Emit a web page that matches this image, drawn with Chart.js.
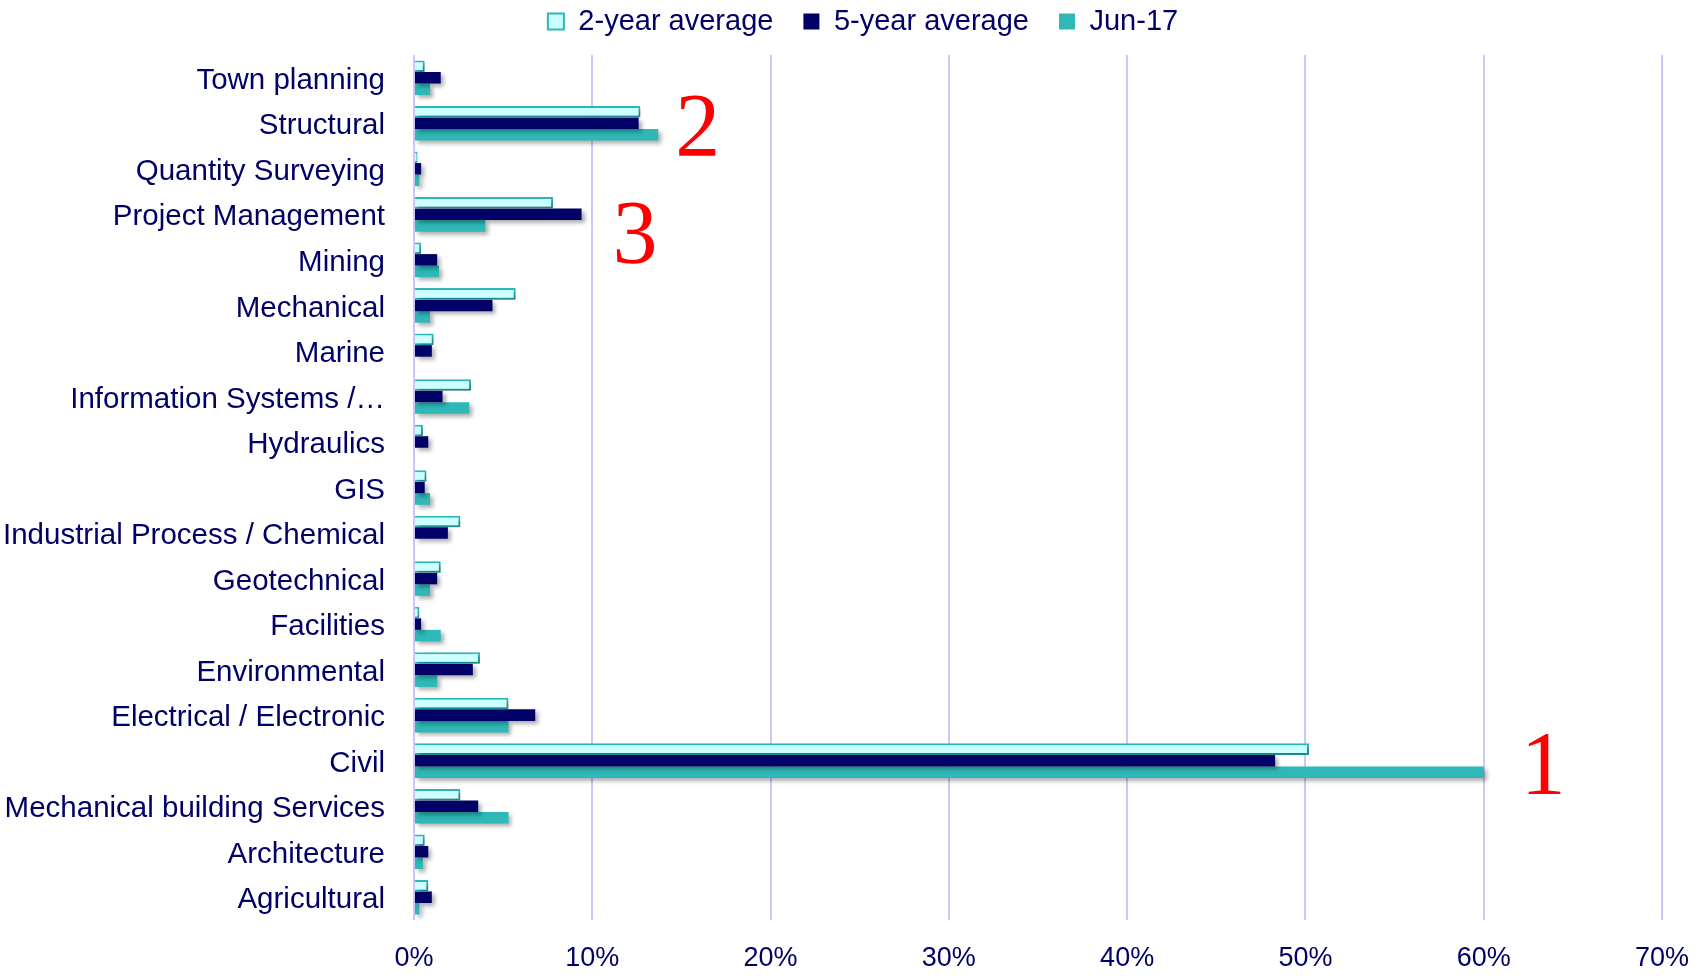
<!DOCTYPE html>
<html>
<head>
<meta charset="utf-8">
<script src="https://cdn.jsdelivr.net/npm/chart.js@4/dist/chart.umd.min.js"></script>
<style>
  html, body { margin: 0; padding: 0; background: #fff; }
  #wrap { width: 1707px; height: 976px; }
</style>
</head>
<body>
<div id="wrap"><canvas id="chart"></canvas></div>
<script>
'use strict';

var categories = ['Town planning', 'Structural', 'Quantity Surveying', 'Project Management', 'Mining',
   'Mechanical', 'Marine', 'Information Systems /\u2026', 'Hydraulics', 'GIS',
   'Industrial Process / Chemical', 'Geotechnical', 'Facilities', 'Environmental',
   'Electrical / Electronic', 'Civil', 'Mechanical building Services', 'Architecture', 'Agricultural'];

var twoYearAvg  = [0.6, 12.7, 0.2, 7.8, 0.4, 5.7, 1.1, 3.2, 0.5, 0.7, 2.6, 1.5, 0.3, 3.7, 5.3, 50.2, 2.6, 0.6, 0.8];
var fiveYearAvg = [1.5, 12.6, 0.4, 9.4, 1.3, 4.4, 1.0, 1.6, 0.8, 0.6, 1.9, 1.3, 0.4, 3.3, 6.8, 48.3, 3.6, 0.8, 1.0];
var jun17       = [0.9, 13.7, 0.3, 4.0, 1.4, 0.9, 0, 3.1, 0, 0.9, 0, 0.9, 1.5, 1.3, 5.3, 60.0, 5.3, 0.5, 0.3];

var xTicks = [0, 10, 20, 30, 40, 50, 60, 70];

// red ranking numbers next to some categories
var rankLabels = ['1', '2', '3'];
var rankCategories = ['Civil', 'Structural', 'Project Management'];

var navy = '#000066';
var teal = '#2EB8B8';
var labelFont = "'Liberation Sans', Arial, sans-serif";

var shadowPlugin = {
   id: 'barShadow',
   beforeDatasetsDraw: function (chart) {
      var ctx = chart.ctx;
      ctx.save();
      ctx.shadowColor = 'rgba(0, 0, 0, 0.32)';
      ctx.shadowBlur = 4;
      ctx.shadowOffsetX = 3;
      ctx.shadowOffsetY = 3;
   },
   afterDatasetsDraw: function (chart) {
      chart.ctx.restore();
   }
};

var rankPlugin = {
   id: 'rankNumbers',
   afterDraw: function (chart) {
      var ctx = chart.ctx;
      var xs = chart.scales.x, ys = chart.scales.y;
      var offsets = [[37, 10], [17, 9], [31, 25]]; // gap right of longest bar, vertical shift
      ctx.save();
      ctx.fillStyle = '#FF0000';
      ctx.font = "90px 'Liberation Serif', 'Times New Roman', serif";
      ctx.textBaseline = 'middle';
      ctx.textAlign = 'left';
      rankLabels.forEach(function (lbl, i) {
         var idx = categories.indexOf(rankCategories[i]);
         var maxVal = Math.max(twoYearAvg[idx], fiveYearAvg[idx], jun17[idx]);
         var x = xs.getPixelForValue(maxVal) + offsets[i][0];
         var y = ys.getPixelForValue(idx) + offsets[i][1];
         ctx.fillText(lbl, x, y);
      });
      ctx.restore();
   }
};

// fixed legend band height; pull it up (big item padding also pads the top) and nudge right
var legendPlugin = {
   id: 'legendBand',
   beforeInit: function (chart) {
      var origFit = chart.legend.fit;
      chart.legend.fit = function () {
         origFit.bind(chart.legend)();
         this.height = 55;
      };
   },
   afterLayout: function (chart) {
      chart.legend.top = -23;
      chart.legend.left += 32;
      chart.legend.right += 32;
   }
};

var ctx = document.getElementById('chart').getContext('2d');
var chart = new Chart(ctx, {
   type: 'bar',
   data: {
      labels: categories,
      datasets: [
         { label: '2-year average', data: twoYearAvg, backgroundColor: '#CCFFFF', borderColor: teal, borderWidth: 2, borderSkipped: 'left' },
         { label: '5-year average', data: fiveYearAvg, backgroundColor: navy, borderColor: navy, borderWidth: 0 },
         { label: 'Jun-17', data: jun17, backgroundColor: teal, borderColor: teal, borderWidth: 0 }
      ]
   },
   options: {
      indexAxis: 'y',
      responsive: true,
      maintainAspectRatio: false,
      animation: false,
      datasets: {
         bar: { categoryPercentage: 0.76, barPercentage: 1.0 }
      },
      layout: { padding: { left: 0, right: 45, top: 0, bottom: 0 } },
      plugins: {
         legend: {
            position: 'top',
            labels: {
               color: navy,
               font: { family: labelFont, size: 29 },
               boxWidth: 16,
               boxHeight: 16,
               padding: 30
            }
         },
         tooltip: { enabled: false }
      },
      scales: {
         x: {
            min: 0,
            max: 70,
            afterBuildTicks: function (scale) {
               scale.ticks = xTicks.map(function (v) { return { value: v }; });
            },
            afterFit: function (scale) {
               scale.height = 56;
               scale.paddingRight = 0;
               scale.paddingLeft = 0;
            },
            ticks: {
               color: navy,
               font: { family: labelFont, size: 27 },
               padding: 22,
               callback: function (v) { return v + '%'; }
            },
            grid: { color: '#C8C8FA', lineWidth: 2, drawTicks: false },
            border: { display: false }
         },
         y: {
            afterFit: function (scale) { scale.width = 414; },
            ticks: {
               color: navy,
               font: { family: labelFont, size: 29.5 },
               padding: 29,
               labelOffset: 3,
               autoSkip: false
            },
            grid: { display: false, drawTicks: false },
            border: { display: false }
         }
      }
   },
   plugins: [legendPlugin, shadowPlugin, rankPlugin]
});
</script>
</body>
</html>
